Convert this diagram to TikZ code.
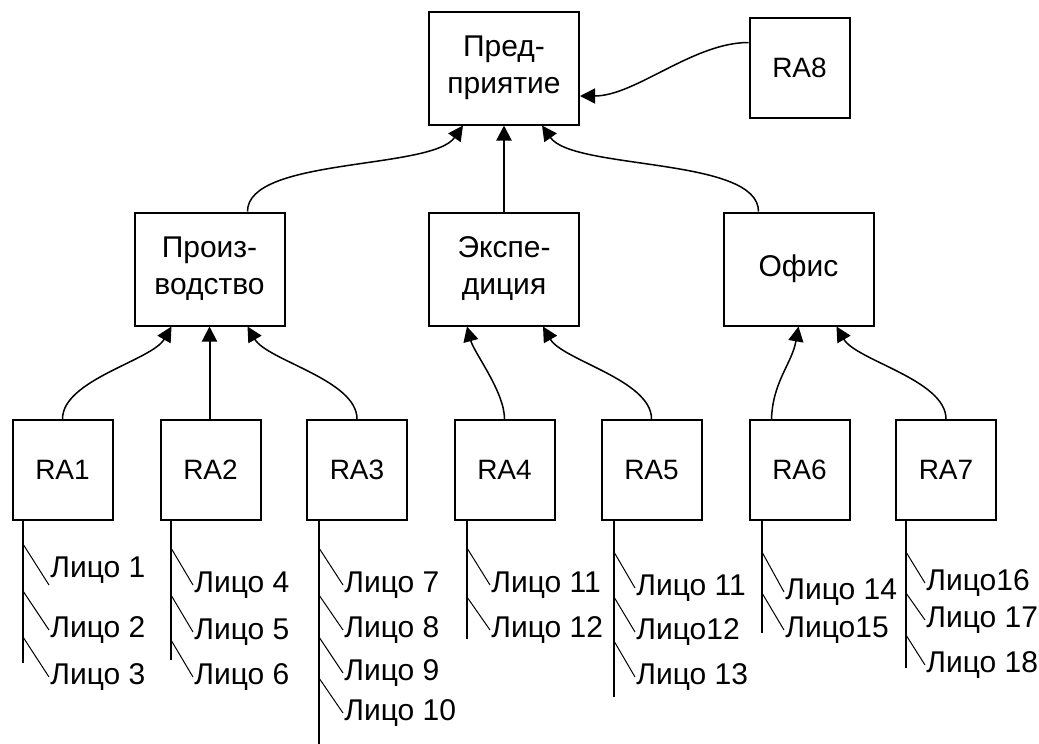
\documentclass[tikz,border=0pt]{standalone}
\usepackage{fontspec}
\setmainfont{Liberation Sans}
\usetikzlibrary{arrows.meta,positioning}
\tikzset{
    unit/.style={rectangle, draw, line width=1pt, minimum width=75pt, minimum height=56.5pt, align=center, inner sep=2pt, font=\fontsize{15}{18.5}\selectfont},
    rabox/.style={rectangle, draw, line width=1pt, minimum width=50pt, minimum height=50pt},
    link/.style={draw, line width=0.75pt, -{Triangle[length=7.5pt,width=7.5pt]}},
    spine/.style={draw, line width=1pt},
    tick/.style={draw, line width=0.5pt},
    person/.style={inner sep=0.5pt, font=\fontsize{15}{18}\selectfont}
}
\begin{document}
\begin{tikzpicture}[x=0.5pt, y=-0.5pt, font=\fontsize{14}{18}\selectfont]
    \useasboundingbox (0,0) rectangle (1039,744);
    % Enterprise
    \node [unit] (top) at (504,68) {Пред-\\приятие};
    \node [rabox] (ra8) at (799.5,67.5) {RA8};

    % Departments
    \node [unit] (prod) at (209.5,269) {Произ-\\водство};
    \node [unit] (exped) at (504,269) {Экспе-\\диция};
    \node [unit] (office) at (798.5,269) {Офис};

    % Registration authorities
    \node [rabox] (ra1) at (62.5,470) {RA1};
    \node [rabox] (ra2) at (210.5,470) {RA2};
    \node [rabox] (ra3) at (357,470) {RA3};
    \node [rabox] (ra4) at (504.5,470) {RA4};
    \node [rabox] (ra5) at (651.5,470) {RA5};
    \node [rabox] (ra6) at (799.5,470) {RA6};
    \node [rabox] (ra7) at (946,470) {RA7};

    % Connections up to the enterprise
    \path [link] ([xshift=19pt]prod.north) to[out=90, in=-125, looseness=0.6] ([xshift=-20.5pt]top.south);
    \path [link, line width=1pt] (exped.north) -- (top.south);
    \path [link] ([xshift=-20pt]office.north) to[out=90, in=-55, looseness=0.6] ([xshift=19pt]top.south);
    \path [link] ([yshift=12.5pt]ra8.west) to[out=180, in=0, looseness=0.8] ([yshift=-14pt]top.east);

    % Connections up to the departments
    \path [link] (ra1.north) to[out=90, in=-120, looseness=0.7] ([xshift=-19pt]prod.south);
    \path [link, line width=1pt] (ra2.north -| prod.south) -- (prod.south);
    \path [link] (ra3.north) to[out=90, in=-60, looseness=0.7] ([xshift=19pt]prod.south);
    \path [link] (ra4.north) to[out=90, in=-75, looseness=0.7] ([xshift=-18.5pt]exped.south);
    \path [link] (ra5.north) to[out=90, in=-60, looseness=0.7] ([xshift=19.5pt]exped.south);
    \path [link] ([xshift=-14pt]ra6.north) to[out=88, in=-100] (office.south);
    \path [link] (ra7.north) to[out=90, in=-60, looseness=0.7] ([xshift=19pt]office.south);

    % Spines
    \coordinate (s1) at (23,663);
    \coordinate (s2) at (171,660);
    \coordinate (s3) at (319,744);
    \coordinate (s4) at (467,639);
    \coordinate (s5) at (614,697);
    \coordinate (s6) at (762,633);
    \coordinate (s7) at (906,668);
    \foreach \i in {1,...,7}
        \path [spine] (ra\i.south -| s\i) -- (s\i);

    % Persons
    \foreach \sx/\sy/\ex/\ey/\a/\n/\t in {
        23/544/49/585/south west/1/Лицо 1, 23/591/49/630/west/2/Лицо 2, 23/637/49/677/west/3/Лицо 3,
        171/548/193/585/west/4/Лицо 4, 171/595/193/632/west/5/Лицо 5, 171/640/193/677/west/6/Лицо 6,
        319/548/343/585/west/7/Лицо 7, 319/595/343/630/west/8/Лицо 8, 319/637/343/673/west/9/Лицо 9,
        319/678/343/713/west/10/Лицо 10,
        467/548/490/585/west/11/Лицо 11, 467/597/490/630/west/12/Лицо 12,
        614/552/635/588/west/13/Лицо 11, 614/597/635/632/west/14/Лицо12, 614/641/635/677/west/15/Лицо 13,
        762/552/784/592/west/16/Лицо 14, 762/593/784/630/west/17/Лицо15,
        906/552/925/583/west/18/Лицо16, 906/593/925/620/west/19/Лицо 17, 906/635/925/665/west/20/Лицо 18}
    {
        \coordinate (t\n) at (\sx,\sy);
        \node [person, anchor=\a] (p\n) at (\ex,\ey) {\t};
        \path [tick] (t\n) -- (p\n.\a);
    }
\end{tikzpicture}
\end{document}
